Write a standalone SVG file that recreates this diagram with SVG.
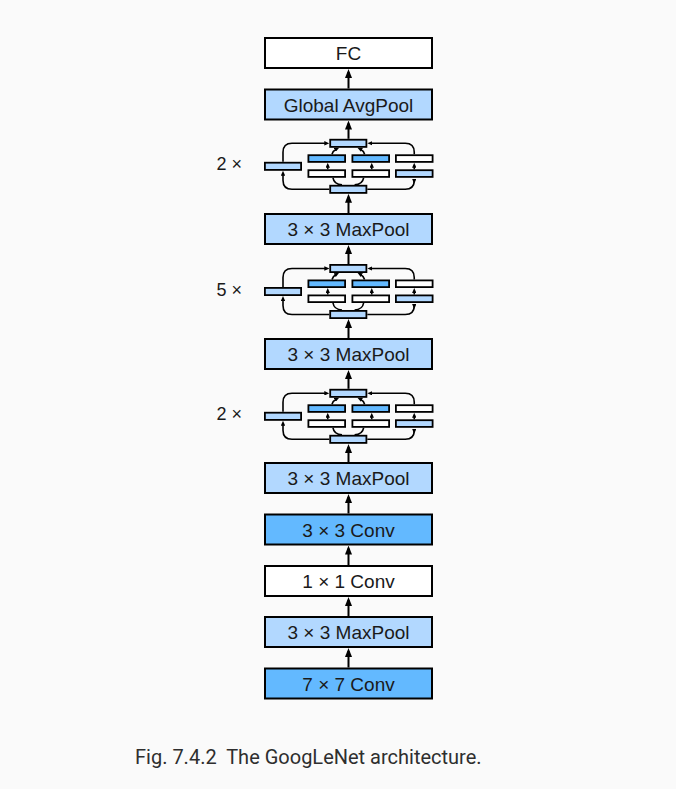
<svg xmlns="http://www.w3.org/2000/svg" xmlns:xlink="http://www.w3.org/1999/xlink" width="676" height="789" viewBox="0 0 676 789">
  <style>
    .box { stroke: #000; stroke-width: 2; }
    .sbox { stroke: #000; stroke-width: 1.8; }
    .white { fill: #ffffff; }
    .light { fill: #b2d8ff; }
    .dark { fill: #63b9ff; }
    .label { font-family: "Liberation Sans", Arial, sans-serif; font-size: 19px; fill: #1a1a1a; text-anchor: middle; }
    .mult { font-family: "Liberation Sans", Arial, sans-serif; font-size: 18px; fill: #1a1a1a; }
    .caption { font-family: Roboto, "Liberation Sans", sans-serif; font-size: 20px; fill: #2e2e2e; }
    .link { fill: none; stroke: #000; stroke-width: 2; }
    .slink { fill: none; stroke: #000; stroke-width: 1.6; }
  </style>
  <defs>
    <marker id="head" viewBox="0 0 9 7" refX="6" refY="3.5" markerWidth="9" markerHeight="7" markerUnits="userSpaceOnUse" orient="auto">
      <path d="M0,0 L9,3.5 L0,7 z" fill="#000"/>
    </marker>
    <marker id="shead" viewBox="0 0 5 4.4" refX="2" refY="2.2" markerWidth="5" markerHeight="4.4" markerUnits="userSpaceOnUse" orient="auto">
      <path d="M0,0 L5,2.2 L0,4.4 z" fill="#000"/>
    </marker>
    <!-- Inception block, drawn around its vertical centre y = 0 -->
    <g id="inception">
      <!-- parallel branches -->
      <rect class="sbox light" x="330.2" y="-26.6" width="36.2" height="7.2"/>
      <rect class="sbox light" x="330.2" y="19.4" width="36.2" height="7.2"/>
      <rect class="sbox light" x="264.9" y="-3.6" width="36.2" height="7.2"/>
      <rect class="sbox dark" x="308.4" y="-11.1" width="36.7" height="6.7"/>
      <rect class="sbox dark" x="352.4" y="-11.1" width="36.7" height="6.7"/>
      <rect class="sbox white" x="395.9" y="-11.1" width="36.7" height="6.7"/>
      <rect class="sbox white" x="308.4" y="3.9" width="36.7" height="6.7"/>
      <rect class="sbox white" x="352.4" y="3.9" width="36.7" height="6.7"/>
      <rect class="sbox light" x="395.9" y="3.9" width="36.7" height="6.7"/>
      <!-- routing inside the block -->
      <path class="slink" d="M283 -4.5 V-14 Q283 -23 292 -23 H326.3" marker-end="url(#shead)"/>
      <path class="slink" d="M329.3 23 H292 Q283 23 283 14 V7.5" marker-end="url(#shead)"/>
      <path class="slink" d="M414.25 -12 V-14 Q414.25 -23 405.25 -23 H370.3" marker-end="url(#shead)"/>
      <path class="slink" d="M367.3 23 H405.25 Q414.25 23 414.25 14 V14.5" marker-end="url(#shead)"/>
      <path class="slink" d="M327.75 3 V-0.5" marker-end="url(#shead)"/>
      <path class="slink" d="M371.75 3 V-0.5" marker-end="url(#shead)"/>
      <path class="slink" d="M414.25 3 V-0.5" marker-end="url(#shead)"/>
      <path class="slink" d="M333 11.5 Q334 18 342 18.5"/>
      <path class="slink" d="M363.6 11.5 Q362.6 18 354.6 18.5"/>
      <path class="slink" d="M332 -12 Q333 -15.5 336.5 -17.3" marker-end="url(#shead)"/>
      <path class="slink" d="M364.6 -12 Q363.6 -15.5 360.1 -17.3" marker-end="url(#shead)"/>
    </g>
  </defs>

  <rect x="0" y="0" width="676" height="789" fill="#fafafa"/>

  <!-- connectors between stages -->
  <g id="connectors">
    <path class="link" d="M348.5 667.5 V651" marker-end="url(#head)"/>
    <path class="link" d="M348.5 616 V600" marker-end="url(#head)"/>
    <path class="link" d="M348.5 565 V548.5" marker-end="url(#head)"/>
    <path class="link" d="M348.5 513.5 V497" marker-end="url(#head)"/>
    <path class="link" d="M348.5 462 V447" marker-end="url(#head)"/>
    <path class="link" d="M348.5 388.8 V373" marker-end="url(#head)"/>
    <path class="link" d="M348.5 338 V322" marker-end="url(#head)"/>
    <path class="link" d="M348.5 264 V248" marker-end="url(#head)"/>
    <path class="link" d="M348.5 213 V196.8" marker-end="url(#head)"/>
    <path class="link" d="M348.5 138.8 V123.5" marker-end="url(#head)"/>
    <path class="link" d="M348.5 88.5 V72" marker-end="url(#head)"/>
  </g>

  <g id="fc">
    <rect class="box white" x="265" y="38" width="167" height="30"/>
    <text class="label" x="348.5" y="60.3">FC</text>
  </g>
  <g id="global-avgpool">
    <rect class="box light" x="265" y="89.5" width="167" height="30"/>
    <text class="label" x="348.5" y="111.8">Global AvgPool</text>
  </g>
  <g id="inception-3">
    <use xlink:href="#inception" href="#inception" transform="translate(0 166.3)"/>
    <text class="mult" x="216.5" y="170.3">2 ×</text>
  </g>
  <g id="maxpool-3">
    <rect class="box light" x="265" y="214" width="167" height="30"/>
    <text class="label" x="348.5" y="236.3">3 × 3 MaxPool</text>
  </g>
  <g id="inception-2">
    <use xlink:href="#inception" href="#inception" transform="translate(0 291.5)"/>
    <text class="mult" x="216.5" y="295.5">5 ×</text>
  </g>
  <g id="maxpool-2">
    <rect class="box light" x="265" y="339" width="167" height="30"/>
    <text class="label" x="348.5" y="361.3">3 × 3 MaxPool</text>
  </g>
  <g id="inception-1">
    <use xlink:href="#inception" href="#inception" transform="translate(0 416.3)"/>
    <text class="mult" x="216.5" y="420.3">2 ×</text>
  </g>
  <g id="maxpool-1">
    <rect class="box light" x="265" y="463" width="167" height="30"/>
    <text class="label" x="348.5" y="485.3">3 × 3 MaxPool</text>
  </g>
  <g id="conv3">
    <rect class="box dark" x="265" y="514.5" width="167" height="30"/>
    <text class="label" x="348.5" y="536.8">3 × 3 Conv</text>
  </g>
  <g id="conv1">
    <rect class="box white" x="265" y="566" width="167" height="30"/>
    <text class="label" x="348.5" y="588.3">1 × 1 Conv</text>
  </g>
  <g id="maxpool-0">
    <rect class="box light" x="265" y="617" width="167" height="30"/>
    <text class="label" x="348.5" y="639.3">3 × 3 MaxPool</text>
  </g>
  <g id="conv7">
    <rect class="box dark" x="265" y="668.5" width="167" height="30"/>
    <text class="label" x="348.5" y="690.8">7 × 7 Conv</text>
  </g>

  <text class="caption" x="135" y="763.5">Fig. 7.4.2&#160; The GoogLeNet architecture.</text>
</svg>
